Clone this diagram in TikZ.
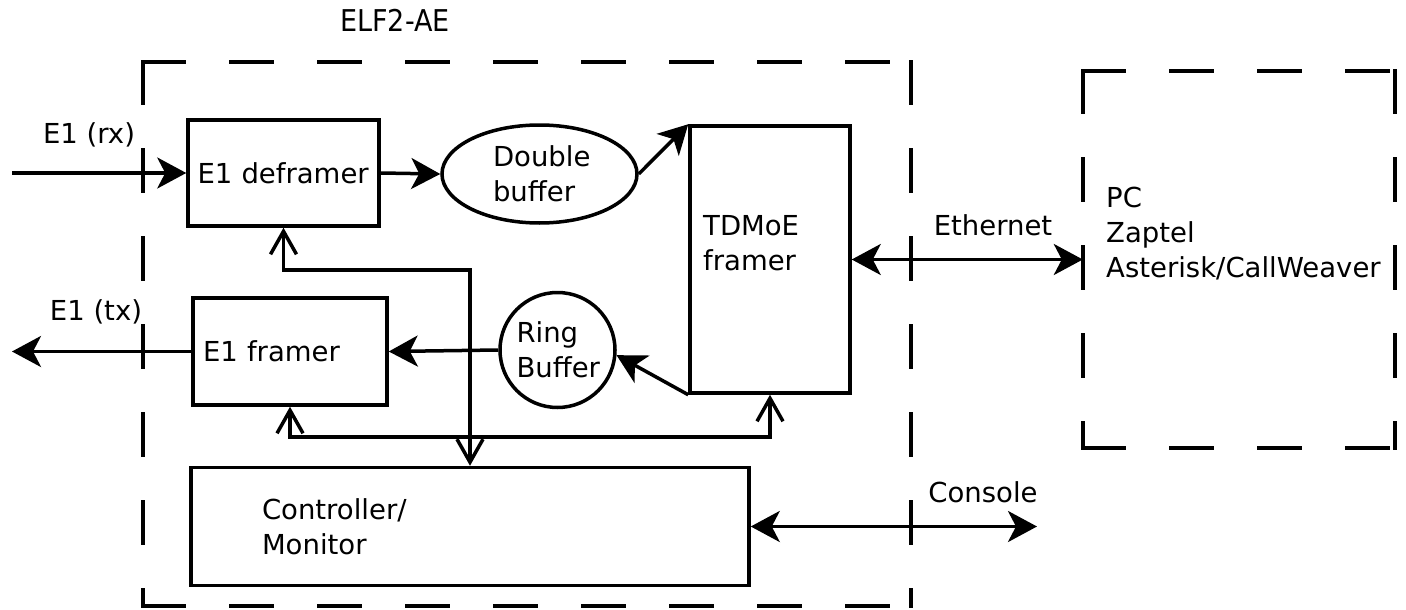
\documentclass[tikz,border=0pt]{standalone}
\usepackage{fontspec}
\setmainfont{DejaVu Sans}
\newfontfamily\condfont{DejaVu Sans Condensed}
\usetikzlibrary{arrows.meta,shapes.geometric,calc}
\begin{document}
\begin{tikzpicture}[x=1pt,y=-1pt,
  every node/.style={font=\fontsize{27.5}{35}\selectfont, inner sep=0pt},
  box/.style={draw, line width=3.5pt, rectangle},
  frame/.style={rectangle, draw=none},
  conn/.style={line width=3.5pt},
  arr/.style={conn, -{Stealth[length=29pt,width=31pt,inset=8pt]}},
  dbl/.style={conn, {Stealth[length=29pt,width=31pt,inset=8pt]}-{Stealth[length=29pt,width=31pt,inset=8pt]}},
  bus/.style={conn, {Straight Barb[length=23pt,width=26pt]}-{Straight Barb[length=23pt,width=26pt]}},
  dsh/.style={line width=3.5pt, line cap=rect, dash pattern=on 41pt off 47pt}
]
\useasboundingbox (0,0) rectangle (1406,610);

% frames
\node[frame, minimum width=768pt, minimum height=544pt] (elf) at (527,334) {};
\node[frame, minimum width=312pt, minimum height=377pt] (pc) at (1239,259.5) {};
\draw[dsh] (elf.north west) -- (elf.north east);
\draw[dsh] (elf.north west) -- (elf.south west);
\draw[dsh] (elf.south west) -- (elf.south east);
\draw[dsh] (elf.north east) -- (elf.south east);
\draw[dsh] (pc.north west) -- (pc.north east);
\draw[dsh] (pc.north west) -- (pc.south west);
\draw[dsh] (pc.south west) -- (pc.south east);
\draw[dsh] (pc.north east) -- (pc.south east);
\node (elftitle) at (395,20) {\condfont\fontsize{30}{35}\selectfont ELF2-AE};
\node[align=left, anchor=west] (pctext) at (1106,234) {PC\\Zaptel\\Asterisk/CallWeaver};

% blocks
\node[box, minimum width=191pt, minimum height=106pt, text width=172pt, align=left] (defr) at (283.5,173) {E1 deframer};
\node[box, minimum width=194pt, minimum height=107pt, text width=174pt, align=left] (fr) at (290,351.5) {E1 framer};
\node[box, minimum width=558pt, minimum height=118pt, text width=416pt, align=left] (ctrl) at (470,526.5) {Controller/\\Monitor};
\node[box, minimum width=160pt, minimum height=267pt] (tdm) at (770,259.5) {};
\node[align=left, anchor=west] (tdmtext) at (703,243) {TDMoE\\framer};
\node[ellipse, draw, line width=3.5pt, minimum width=195pt, minimum height=98pt, text width=93pt, align=left] (dbuf) at (539.5,174) {Double\\buffer};
\node[circle, draw, line width=3.5pt, minimum size=115pt, text width=82pt, align=left] (ring) at (557.5,350) {Ring\\Buffer};

% outside ends
\coordinate (rxin) at (12,173);
\coordinate (txout) at (12,351.5);
\coordinate (consend) at (1037,526.5);

% labels
\node (rxlab) at (89,135) {E1 (rx)};
\node (txlab) at (96,312) {E1 (tx)};
\node (ethlab) at (993,225) {Ethernet};
\node (conslab) at (983,492) {Console};

% connectors
\draw[arr] (rxin) -- (defr.west);
\draw[arr] (fr.west) -- (txout);
\draw[arr] (defr.east) -- (dbuf.west);
\draw[arr] (dbuf.east) -- (tdm.north west);
\draw[arr] (tdm.south west) -- (ring.-5);
\draw[arr] (ring.west) -- (fr.east);
\draw[dbl] (tdm.east) -- (tdm.east -| pc.west);
\draw[dbl] (ctrl.east) -- (consend);
\coordinate (busA) at (ctrl.north |- 0,270);
\coordinate (busB) at (tdm.south |- 0,437);
\draw[bus] (defr.south) |- (busA) -- (ctrl.north);
\draw[bus] (fr.south) |- (busB) -- (tdm.south);
\end{tikzpicture}
\end{document}
